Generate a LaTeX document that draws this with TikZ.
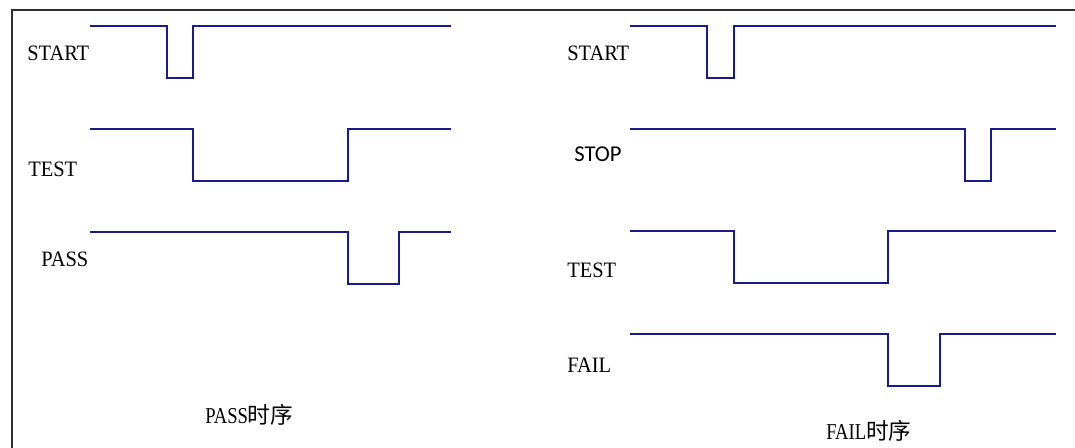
\documentclass[tikz,border=0pt]{standalone}
\usepackage{fontspec}
\usepackage{tikz}
\usetikzlibrary{positioning}
\definecolor{SignalBlue}{HTML}{1A1A8C}
\definecolor{FrameGray}{HTML}{303030}
\newfontfamily\labelfont{Liberation Serif}[FakeStretch=0.93]
\newfontfamily\stopfont{Carlito}
\newfontfamily\captionlatin{Liberation Serif}[FakeStretch=0.82]
\newfontfamily\cjk{Noto Sans CJK SC}
\tikzset{
  % Line styles
  signal/.style={SignalBlue, line width=2.1pt, line join=miter},
  frame/.style={FrameGray, line width=1.2pt},
  % Text styles
  siglabel/.style={anchor=west, inner sep=0pt, font=\labelfont\fontsize{16.5}{18}\selectfont},
  stoplabel/.style={anchor=west, inner sep=0pt, font=\stopfont\fontsize{17}{18}\selectfont},
  captionlabel/.style={anchor=west, inner sep=0pt, font=\captionlatin\fontsize{17}{18}\selectfont}
}

\begin{document}
\begin{tikzpicture}[x=0.75pt, y=-0.75pt]
  \useasboundingbox (0,0) rectangle (1075,448);

  % Frame
  \draw[frame] (12,448) -- (12,10) -- (1075,10);

  % PASS waveforms
  \draw[signal] (90,26) -| (167,78) -| (193,26) -- (451,26);
  \draw[signal] (90,129) -| (193,181) -| (348,129) -- (451,129);
  \draw[signal] (90,232) -| (348,284) -| (399,232) -- (451,232);

  % FAIL waveforms
  \draw[signal] (630,26) -| (707,78) -| (734,26) -- (1056,26);
  \draw[signal] (630,129) -| (965,181) -| (991,129) -- (1056,129);
  \draw[signal] (630,231) -| (734,283) -| (888,231) -- (1056,231);
  \draw[signal] (630,334) -| (888,386) -| (940,334) -- (1056,334);

  % Signal names
  \node[siglabel] (passstart) at (27,53.5) {START};
  \node[siglabel] (passtest) at (28,169.5) {TEST};
  \node[siglabel] (passpass) at (41,259) {PASS};

  \node[siglabel] (failstart) at (567,53.5) {START};
  \node[stoplabel] (failstop) at (574,154.5) {STOP};
  \node[siglabel] (failtest) at (567,270.5) {TEST};
  \node[siglabel] (failfail) at (567,365) {FAIL};

  % Captions
  \node[captionlabel] (passcap) at (205,415) {PASS{\cjk 时序}};
  \node[captionlabel] (failcap) at (826,431) {FAIL{\cjk 时序}};
\end{tikzpicture}
\end{document}
